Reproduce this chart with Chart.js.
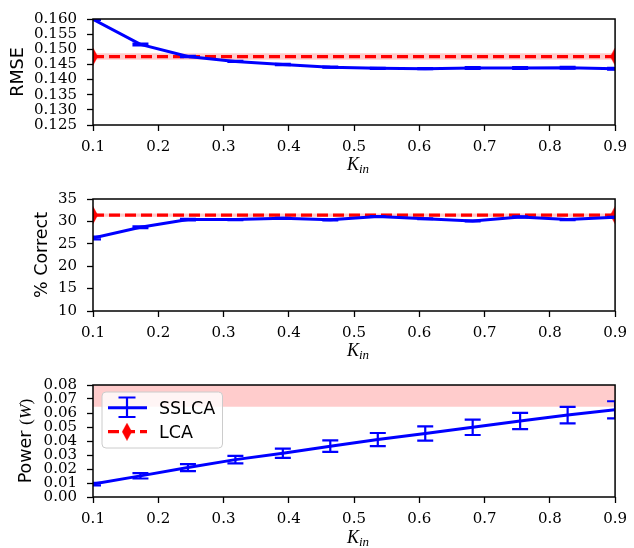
<!DOCTYPE html>
<html>
<head>
<meta charset="utf-8">
<script src="https://cdn.jsdelivr.net/npm/chart.js@4.4.0/dist/chart.umd.min.js"></script>
<style>
  body { margin: 0; background: #fff; }
  .panel { position: absolute; left: 0; width: 634px; }
</style>
</head>
<body>
<div class="panel" style="top:0;height:180px"><canvas id="rmseChart" width="634" height="180"></canvas></div>
<div class="panel" style="top:180px;height:186px"><canvas id="correctChart" width="634" height="186"></canvas></div>
<div class="panel" style="top:366px;height:182px"><canvas id="powerChart" width="634" height="182"></canvas></div>
<script>
// K_in values (12 runs)
const kin = [0.1, 0.1727, 0.2455, 0.3182, 0.3909, 0.4636, 0.5364, 0.6091, 0.6818, 0.7545, 0.8273, 0.9];

// SSLCA results
const rmse       = [0.1599, 0.1516, 0.1476, 0.1460, 0.1450, 0.1441, 0.1437, 0.1436, 0.1438, 0.1438, 0.1439, 0.1436];
const rmseErr    = [0.0002, 0.0003, 0.0002, 0.0002, 0.0002, 0.0002, 0.0002, 0.0002, 0.0003, 0.0003, 0.0003, 0.0003];
const correct    = [26.3, 28.7, 30.4, 30.4, 30.7, 30.35, 31.1, 30.6, 30.1, 31.0, 30.4, 30.9];
const correctErr = [0.3, 0.2, 0.15, 0.1, 0.1, 0.1, 0.1, 0.1, 0.1, 0.1, 0.1, 0.1];
const power      = [0.0092, 0.0151, 0.0210, 0.0267, 0.0312, 0.0363, 0.0410, 0.0453, 0.0498, 0.0543, 0.0585, 0.0623];
const powerErr   = [0.0009, 0.0019, 0.0025, 0.0027, 0.0033, 0.0041, 0.0047, 0.0051, 0.0055, 0.0058, 0.0059, 0.0061];

// LCA reference (flat line over the K_in range)
const lcaX = [0.1, 0.9];
const lcaRmse = 0.1476, lcaRmseErr = 0.00105;
const lcaCorrect = 31.4, lcaCorrectErr = 0.35;
const lcaPower = 0.095, lcaPowerErr = 0.0305;

// tick labels
const kinTicks = [0.1, 0.2, 0.3, 0.4, 0.5, 0.6, 0.7, 0.8, 0.9];
const rmseTicks = [0.125, 0.130, 0.135, 0.140, 0.145, 0.150, 0.155, 0.160];
const correctTicks = [10, 15, 20, 25, 30, 35];
const powerTicks = [0, 0.01, 0.02, 0.03, 0.04, 0.05, 0.06, 0.07, 0.08];

const SERIF = 'Liberation Serif';
const TICK_FONT = 'DejaVu Serif';
const SANS = 'DejaVu Sans';
const BLUE = '#0000ff';
const RED = '#ff0000';
const BAND = 'rgba(255, 0, 0, 0.2)';

// thin diamond marker (matplotlib 'd')
const diamond = document.createElement('canvas');
diamond.width = 10;
diamond.height = 18;
(function () {
  const c = diamond.getContext('2d');
  c.fillStyle = RED;
  c.beginPath();
  c.moveTo(5, 0); c.lineTo(10, 9); c.lineTo(5, 18); c.lineTo(0, 9);
  c.closePath();
  c.fill();
})();

const errorBars = {
  id: 'errorBars',
  afterDatasetsDraw(chart, args, opts) {
    const { ctx, chartArea: a, scales: { x, y } } = chart;
    ctx.save();
    ctx.beginPath();
    ctx.rect(a.left, a.top, a.right - a.left, a.bottom - a.top);
    ctx.clip();
    ctx.strokeStyle = BLUE;
    ctx.lineWidth = 2.2;
    opts.values.forEach((v, i) => {
      const px = x.getPixelForValue(kin[i]);
      const top = y.getPixelForValue(v + opts.errors[i]);
      const bot = y.getPixelForValue(v - opts.errors[i]);
      ctx.beginPath();
      ctx.moveTo(px, top); ctx.lineTo(px, bot);
      ctx.moveTo(px - 8, top); ctx.lineTo(px + 8, top);
      ctx.moveTo(px - 8, bot); ctx.lineTo(px + 8, bot);
      ctx.stroke();
    });
    ctx.restore();
  }
};

function drawParts(ctx, parts, x, y) {
  let w = 0;
  parts.forEach(p => { ctx.font = p.font; w += ctx.measureText(p.text).width; });
  let cx = x - w / 2;
  parts.forEach(p => {
    ctx.font = p.font;
    ctx.fillText(p.text, cx, y + (p.dy || 0));
    cx += ctx.measureText(p.text).width;
  });
}

const decor = {
  id: 'decor',
  afterDraw(chart, args, opts) {
    const { ctx, chartArea: a } = chart;
    ctx.save();
    // frame
    ctx.strokeStyle = '#000';
    ctx.lineWidth = 1.5;
    ctx.strokeRect(a.left, a.top, a.right - a.left, a.bottom - a.top);

    ctx.fillStyle = '#000';
    ctx.textBaseline = 'alphabetic';
    ctx.textAlign = 'left';
    // x title K_in
    drawParts(ctx, [
      { text: 'K', font: 'italic 18px ' + SERIF },
      { text: 'in', font: 'italic 13px ' + SERIF, dy: 3 }
    ], (a.left + a.right) / 2 + 4, opts.kinY);

    // y title
    ctx.save();
    ctx.translate(opts.yTitleX, (a.top + a.bottom) / 2);
    ctx.rotate(-Math.PI / 2);
    drawParts(ctx, opts.yTitle, 0, 0);
    ctx.restore();

    if (opts.legend) {
      const lx = 102, ly = 26, lw = 120.5, lh = 56;
      ctx.beginPath();
      ctx.roundRect(lx, ly, lw, lh, 4);
      ctx.fillStyle = 'rgba(255,255,255,0.8)';
      ctx.fill();
      ctx.strokeStyle = '#cccccc';
      ctx.lineWidth = 1;
      ctx.stroke();

      // SSLCA handle
      ctx.strokeStyle = BLUE;
      ctx.lineWidth = 3;
      ctx.beginPath();
      ctx.moveTo(108, 41.7); ctx.lineTo(147, 41.7);
      ctx.stroke();
      ctx.lineWidth = 2.2;
      ctx.beginPath();
      ctx.moveTo(127, 31.5); ctx.lineTo(127, 51);
      ctx.moveTo(118.5, 31.5); ctx.lineTo(135.5, 31.5);
      ctx.moveTo(118.5, 51); ctx.lineTo(135.5, 51);
      ctx.stroke();

      // LCA handle
      ctx.strokeStyle = RED;
      ctx.lineWidth = 3.2;
      ctx.setLineDash([11, 5]);
      ctx.beginPath();
      ctx.moveTo(108, 65.7); ctx.lineTo(147, 65.7);
      ctx.stroke();
      ctx.setLineDash([]);
      ctx.drawImage(diamond, 122, 56.7);

      ctx.fillStyle = '#000';
      ctx.font = '17.5px ' + SANS;
      ctx.fillText('SSLCA', 159, 48.2);
      ctx.fillText('LCA', 159, 72.2);
    }
    ctx.restore();
  }
};

function bandSets(value, err, order) {
  return [
    { data: lcaX.map(x => ({ x, y: value + err })), fill: '+1', backgroundColor: BAND,
      borderWidth: 0, pointRadius: 0, order: order, clip: 0 },
    { data: lcaX.map(x => ({ x, y: value - err })), fill: false, borderWidth: 0,
      pointRadius: 0, order: order, clip: 0 },
    { data: lcaX.map(x => ({ x, y: value })), borderColor: RED, borderWidth: 3.2,
      borderDash: [11, 5], pointStyle: diamond, pointRadius: 9, fill: false,
      order: order - 1, clip: 0 }
  ];
}

function panel(id, cfg) {
  return new Chart(document.getElementById(id), {
    type: 'line',
    data: {
      datasets: [
        ...bandSets(cfg.lca, cfg.lcaErr, 3),
        { data: kin.map((x, i) => ({ x, y: cfg.values[i] })), borderColor: BLUE, borderWidth: 3,
          pointRadius: 0, fill: false, tension: 0, order: 1, clip: 0 }
      ]
    },
    options: {
      responsive: false,
      animation: false,
      events: [],
      layout: { padding: { left: 0, right: 13, top: cfg.top, bottom: 0 } },
      plugins: {
        legend: { display: false },
        tooltip: { enabled: false },
        errorBars: { values: cfg.values, errors: cfg.errors },
        decor: { yTitle: cfg.yTitle, yTitleX: cfg.yTitleX, kinY: cfg.kinY, legend: cfg.legend }
      },
      scales: {
        x: {
          type: 'linear',
          min: 0.1,
          max: 0.9,
          afterFit: s => { s.height = cfg.xHeight; },
          afterBuildTicks: s => { s.ticks = kinTicks.map(v => ({ value: v })); },
          ticks: { autoSkip: false, maxRotation: 0, padding: 7, color: '#000',
            font: { family: TICK_FONT, size: 15 }, callback: v => v.toFixed(1) },
          grid: { drawOnChartArea: false, drawTicks: true, tickLength: 6, tickColor: '#000', tickWidth: 1.3 },
          border: { display: false }
        },
        y: {
          type: 'linear',
          min: cfg.ticks[0],
          max: cfg.ticks[cfg.ticks.length - 1],
          afterFit: s => { s.width = 93; },
          afterBuildTicks: s => { s.ticks = cfg.ticks.map(v => ({ value: v })); },
          ticks: { autoSkip: false, padding: 10, color: '#000',
            font: { family: TICK_FONT, size: 15 }, callback: v => v.toFixed(cfg.digits) },
          grid: { drawOnChartArea: false, drawTicks: true, tickLength: 6, tickColor: '#000', tickWidth: 1.3 },
          border: { display: false }
        }
      }
    },
    plugins: [errorBars, decor]
  });
}

panel('rmseChart', {
  values: rmse, errors: rmseErr, lca: lcaRmse, lcaErr: lcaRmseErr,
  ticks: rmseTicks, digits: 3, top: 14, xHeight: 55, kinY: 170,
  yTitleX: 22.7, yTitle: [{ text: 'RMSE', font: '17.5px ' + SANS }]
});

panel('correctChart', {
  values: correct, errors: correctErr, lca: lcaCorrect, lcaErr: lcaCorrectErr,
  ticks: correctTicks, digits: 0, top: 18, xHeight: 55, kinY: 176,
  yTitleX: 46.5, yTitle: [{ text: '% Correct', font: '17.5px ' + SANS }]
});

panel('powerChart', {
  values: power, errors: powerErr, lca: lcaPower, lcaErr: lcaPowerErr,
  ticks: powerTicks, digits: 2, top: 18, xHeight: 51, kinY: 176.5, legend: true,
  yTitleX: 30.5, yTitle: [
    { text: 'Power ', font: '17.5px ' + SANS },
    { text: '(', font: '17.5px ' + SERIF },
    { text: 'W', font: 'italic 17.5px ' + SERIF },
    { text: ')', font: '17.5px ' + SERIF }
  ]
});
</script>
</body>
</html>
